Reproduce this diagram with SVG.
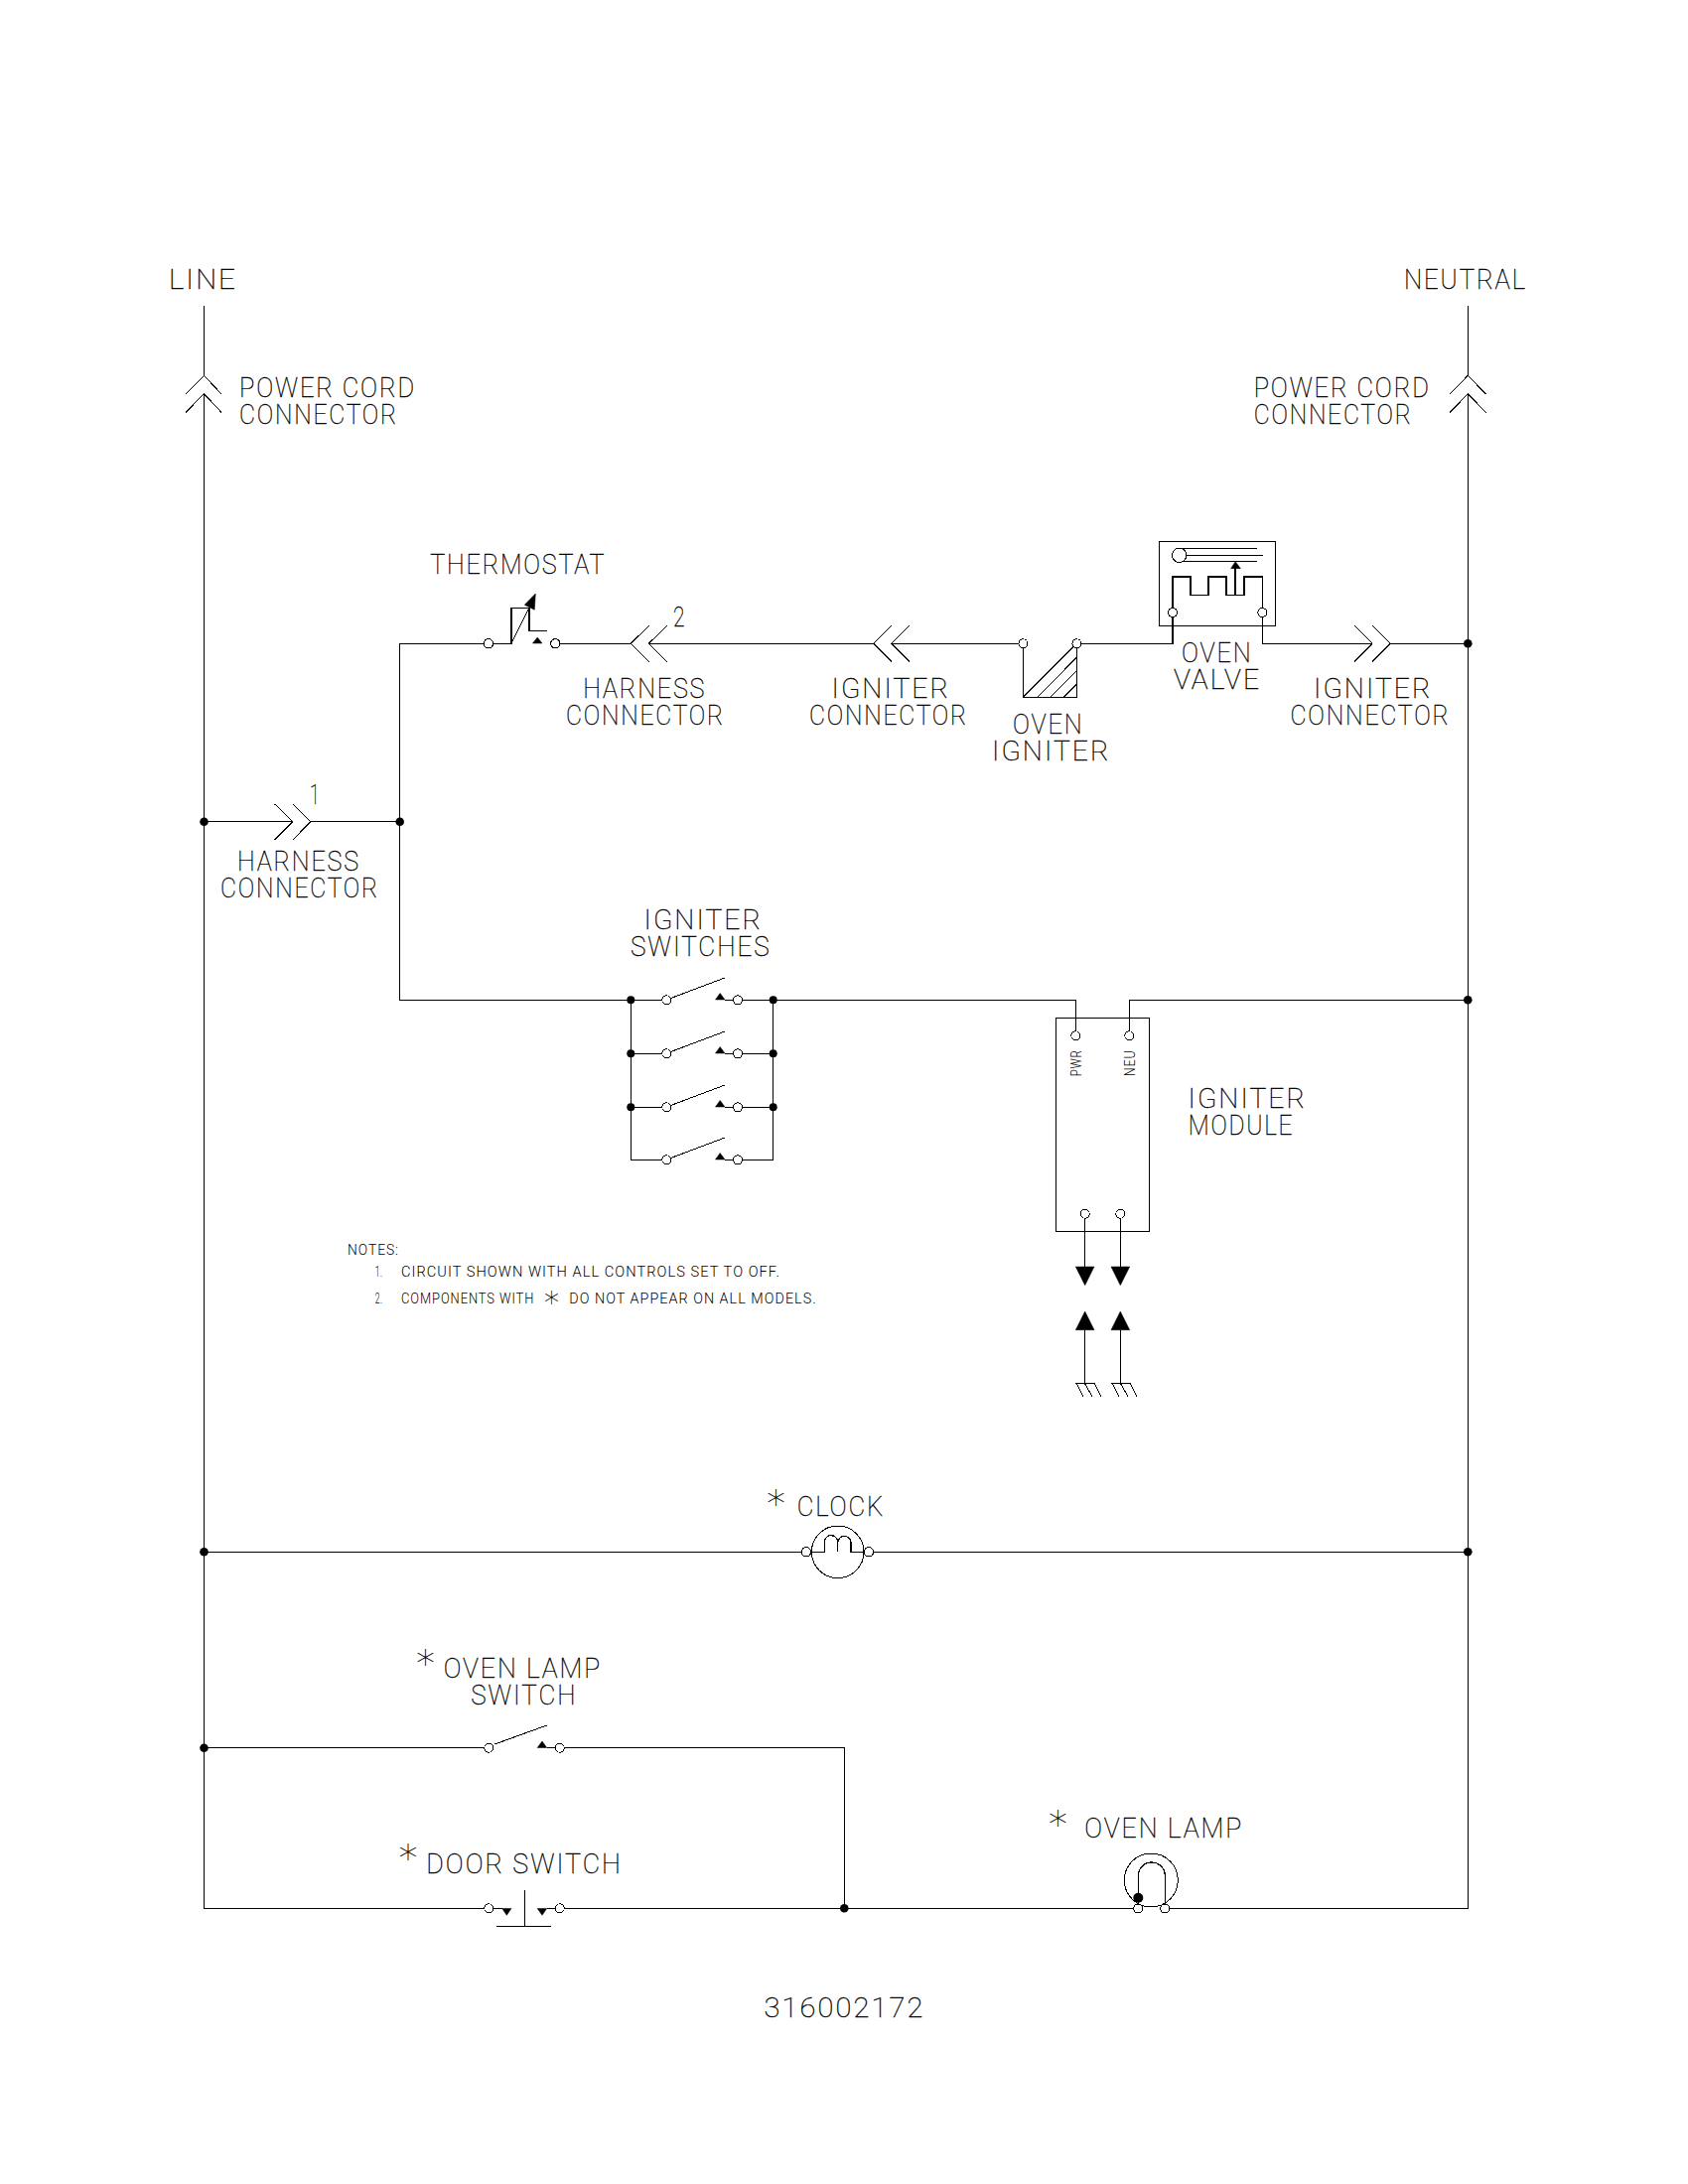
<svg xmlns="http://www.w3.org/2000/svg" width="1700" height="2200" viewBox="0 0 1700 2200">
<style>
rect.bg{fill:#fff}
.w{fill:none;stroke:#000;stroke-width:1.25;shape-rendering:crispEdges}
.l{fill:none;stroke:#000;stroke-width:1;shape-rendering:crispEdges}
.c{fill:#fff;stroke:#000;stroke-width:1;shape-rendering:crispEdges}
.d{fill:#000;stroke:none}
.f{fill:#000;stroke:#000;stroke-width:.5}
text{font-family:Roboto,"Liberation Sans",sans-serif;font-weight:100;font-size:27.5px;letter-spacing:2px;fill:#000;stroke:#000;stroke-width:.35}
text.s{font-size:14px;font-weight:300;letter-spacing:1px;stroke:none}
text.a{font-family:"DejaVu Sans",sans-serif;font-weight:200;font-size:38px;letter-spacing:0;stroke:none}
text.b{font-family:"DejaVu Sans",sans-serif;font-weight:200;font-size:30px;letter-spacing:0;stroke:none}
</style>
<rect class="bg" width="1700" height="2200"/>
<g id="connectors">
<path class="w" d="M205.5 307.7V378.3M205.5 396.7V1922.3H492.3M563.7 1922.3H1146.3M1173.3 1922.3H1478.3V396.7M1478.3 378.3V307.7"/>
<path class="w" d="M205.5 827.7H295M312.7 827.7H402.7"/>
<path class="w" d="M492 648.3H402.7V1007.3H671.3"/>
<path class="w" d="M559.3 648.3H635M653.3 648.3H880M898 648.3H1030.4M1084.4 648.3H1181V617M1271.3 617V648.3H1382M1400 648.3H1478.3"/>
<path class="w" d="M743 1007.3H1083.3V1043.3M1137.3 1043.3V1007.3H1478.3"/>
<path class="w" d="M205.5 1563.3H812M875 1563.3H1478.3"/>
<path class="w" d="M205.5 1760.7H492.3M563.7 1760.7H850.3V1922.3"/>
</g>
<g id="junctions">
<circle class="d" cx="205.5" cy="827.7" r="4.3"/><circle class="d" cx="402.7" cy="827.7" r="4.3"/>
<circle class="d" cx="1478.3" cy="648.3" r="4.3"/><circle class="d" cx="1478.3" cy="1007.3" r="4.3"/>
<circle class="d" cx="205.5" cy="1563.3" r="4.3"/><circle class="d" cx="1478.3" cy="1563.3" r="4.3"/>
<circle class="d" cx="205.5" cy="1760.7" r="4.3"/><circle class="d" cx="850.3" cy="1922.3" r="4.3"/>
</g>
<g id="line-label"><text x="170" y="290.7" textLength="69" lengthAdjust="spacingAndGlyphs">LINE</text></g>
<g id="neutral-label"><text x="1414" y="290.7" textLength="124" lengthAdjust="spacingAndGlyphs">NEUTRAL</text></g>
<g id="power-cord-left">
<path class="l" d="M186.7 397.3L205.5 378.3L223.3 397.3M186.7 415.7L205.5 396.7L223.3 415.7"/>
<text x="241" y="400" textLength="178" lengthAdjust="spacingAndGlyphs">POWER CORD</text>
<text x="241" y="426.7" textLength="160" lengthAdjust="spacingAndGlyphs">CONNECTOR</text>
</g>
<g id="power-cord-right">
<path class="l" d="M1460 397.3L1478.3 378.3L1496.7 397.3M1460 415.7L1478.3 396.7L1496.7 415.7"/>
<text x="1262.7" y="400" textLength="178" lengthAdjust="spacingAndGlyphs">POWER CORD</text>
<text x="1262.7" y="426.7" textLength="160" lengthAdjust="spacingAndGlyphs">CONNECTOR</text>
</g>
<g id="thermostat">
<text x="433.3" y="577.7" textLength="177" lengthAdjust="spacingAndGlyphs">THERMOSTAT</text>
<path class="w" d="M497 648.3H515V612.3H533V635.5H551"/>
<path class="l" d="M515 648.3L533 612.3"/>
<polygon class="f" points="528.3,609.3 539.3,598 538.3,614.3"/>
<polygon class="f" points="536.5,648 546,648 541.2,642"/>
<circle class="c" cx="492" cy="648.3" r="4.7"/><circle class="c" cx="559.3" cy="648.3" r="4.7"/>
</g>
<g id="harness-connector-2">
<path class="l" d="M654 630.3L635 648.3L654 666.7M672 630.3L653.3 648.3L672 666.7"/>
<text x="678" y="631" textLength="13" lengthAdjust="spacingAndGlyphs">2</text>
<text x="587.3" y="702.7" textLength="124" lengthAdjust="spacingAndGlyphs">HARNESS</text>
<text x="570" y="730" textLength="160" lengthAdjust="spacingAndGlyphs">CONNECTOR</text>
</g>
<g id="igniter-connector-left">
<path class="l" d="M898 630.3L880 648.3L898 666.7M916 630.3L898 648.3L916 666.7"/>
<text x="837.5" y="703" textLength="119.5" lengthAdjust="spacingAndGlyphs">IGNITER</text>
<text x="815" y="730" textLength="160" lengthAdjust="spacingAndGlyphs">CONNECTOR</text>
</g>
<g id="oven-igniter">
<path class="w" d="M1030.4 648.3V702.3H1084.4V648.3"/>
<path class="l" d="M1030.4 702.3L1084.4 648.3M1044.5 702.3L1084.4 662.3M1057.6 702.3L1084.4 675.7M1071 702.3L1084.4 689.3"/>
<circle class="c" cx="1030.4" cy="648.3" r="4.5"/><circle class="c" cx="1084.4" cy="648.3" r="4.5"/>
<text x="1020" y="738.7" textLength="71.5" lengthAdjust="spacingAndGlyphs">OVEN</text>
<text x="999" y="765.7" textLength="119.5" lengthAdjust="spacingAndGlyphs">IGNITER</text>
</g>
<g id="oven-valve">
<rect class="w" x="1167.6" y="545.3" width="116.8" height="85"/>
<path class="w" d="M1181 612.5V581H1199V599.3H1217V581H1235V599.3H1253V581H1271.3V612.5M1244 599.3V572"/>
<polygon class="f" points="1239.6,572.7 1249.4,572.7 1244.2,565.7"/>
<path class="l" d="M1187.7 552.3H1266.4M1187.7 559.3H1271.7M1187.7 565.7H1266.4"/>
<circle class="c" cx="1187.7" cy="559.3" r="7.2"/>
<circle class="c" cx="1181" cy="617" r="4.5"/><circle class="c" cx="1271.3" cy="617" r="4.5"/>
<text x="1190" y="666.7" textLength="71.5" lengthAdjust="spacingAndGlyphs">OVEN</text>
<text x="1182" y="694" textLength="88" lengthAdjust="spacingAndGlyphs">VALVE</text>
</g>
<g id="igniter-connector-right">
<path class="l" d="M1364 630.3L1382 648.3L1364 666.7M1382 630.3L1400 648.3L1382 666.7"/>
<text x="1323" y="703" textLength="119.5" lengthAdjust="spacingAndGlyphs">IGNITER</text>
<text x="1299.5" y="730" textLength="161" lengthAdjust="spacingAndGlyphs">CONNECTOR</text>
</g>
<g id="harness-connector-1">
<path class="l" d="M276.7 810L295 827.7L276.7 846M295 810L312.7 827.7L295 846"/>
<text x="312" y="810" textLength="11" lengthAdjust="spacingAndGlyphs">1</text>
<text x="239" y="876.7" textLength="124" lengthAdjust="spacingAndGlyphs">HARNESS</text>
<text x="222" y="904" textLength="160" lengthAdjust="spacingAndGlyphs">CONNECTOR</text>
</g>
<g id="igniter-switches">
<text x="648.5" y="935.7" textLength="119.5" lengthAdjust="spacingAndGlyphs">IGNITER</text>
<text x="635" y="962.7" textLength="141.5" lengthAdjust="spacingAndGlyphs">SWITCHES</text>
<path class="w" d="M635.3 1007.3V1168.3H671.3M635.3 1061.3H671.3M635.3 1115.3H671.3M778.7 1007.3V1168.3H743M778.7 1007.3H743M778.7 1061.3H743M778.7 1115.3H743"/>
<path class="w" d="M730 1007.3H743M730 1061.3H743M730 1115.3H743M730 1168.3H743"/>
<path class="l" d="M676 1005.3L730 985M676 1059.3L730 1039M676 1113.3L730 1093M676 1166.3L730 1146"/>
<polygon class="f" points="720.5,1007 730,1007 725.2,1000.5"/>
<polygon class="f" points="720.5,1061 730,1061 725.2,1054.5"/>
<polygon class="f" points="720.5,1115 730,1115 725.2,1108.5"/>
<polygon class="f" points="720.5,1168 730,1168 725.2,1161.5"/>
<circle class="d" cx="635.3" cy="1007.3" r="4"/><circle class="d" cx="635.3" cy="1061.3" r="4"/><circle class="d" cx="635.3" cy="1115.3" r="4"/>
<circle class="d" cx="778.7" cy="1007.3" r="4"/><circle class="d" cx="778.7" cy="1061.3" r="4"/><circle class="d" cx="778.7" cy="1115.3" r="4"/>
<circle class="c" cx="671.3" cy="1007.3" r="4.5"/><circle class="c" cx="671.3" cy="1061.3" r="4.5"/><circle class="c" cx="671.3" cy="1115.3" r="4.5"/><circle class="c" cx="671.3" cy="1168.3" r="4.5"/>
<circle class="c" cx="743" cy="1007.3" r="4.5"/><circle class="c" cx="743" cy="1061.3" r="4.5"/><circle class="c" cx="743" cy="1115.3" r="4.5"/><circle class="c" cx="743" cy="1168.3" r="4.5"/>
</g>
<g id="igniter-module">
<rect class="w" x="1063.3" y="1025.3" width="94" height="215"/>
<circle class="c" cx="1083.3" cy="1043.3" r="4.5"/><circle class="c" cx="1137.3" cy="1043.3" r="4.5"/>
<circle class="c" cx="1092.7" cy="1222.7" r="4.5"/><circle class="c" cx="1128.3" cy="1222.7" r="4.5"/>
<text class="s" transform="translate(1089.3 1084.3) rotate(-90)" textLength="27" lengthAdjust="spacingAndGlyphs">PWR</text>
<text class="s" transform="translate(1143.3 1084.3) rotate(-90)" textLength="27" lengthAdjust="spacingAndGlyphs">NEU</text>
<text x="1196.5" y="1115.7" textLength="119.5" lengthAdjust="spacingAndGlyphs">IGNITER</text>
<text x="1196.7" y="1142.7" textLength="106.5" lengthAdjust="spacingAndGlyphs">MODULE</text>
<path class="w" d="M1092.7 1227V1276M1128.3 1227V1276M1092.3 1339.7V1393.3M1128.3 1339.7V1393.3M1083.3 1393.3H1102.7M1119.3 1393.3H1138.7"/>
<polygon class="f" points="1083.3,1276 1102,1276 1092.7,1294.7"/>
<polygon class="f" points="1119,1276 1137.7,1276 1128.3,1294.7"/>
<polygon class="f" points="1083.3,1339.7 1102,1339.7 1092.7,1321"/>
<polygon class="f" points="1119,1339.7 1137.7,1339.7 1128.3,1321"/>
<path class="l" d="M1084 1393.3L1090.7 1406.7M1092.3 1393.3L1100 1406.7M1102.3 1393.3L1108.7 1406.7M1120 1393.3L1126.7 1406.7M1128.3 1393.3L1136 1406.7M1138.3 1393.3L1144.7 1406.7"/>
</g>
<g id="notes">
<text class="s" x="350" y="1264" textLength="52" lengthAdjust="spacingAndGlyphs">NOTES:</text>
<text class="s" x="377.7" y="1286" textLength="8" lengthAdjust="spacingAndGlyphs">1.</text>
<text class="s" x="404" y="1286" textLength="382" lengthAdjust="spacingAndGlyphs">CIRCUIT SHOWN WITH ALL CONTROLS SET TO OFF.</text>
<text class="s" x="377.7" y="1313.3" textLength="8" lengthAdjust="spacingAndGlyphs">2.</text>
<text class="s" x="404" y="1313.3" textLength="134.3" lengthAdjust="spacingAndGlyphs">COMPONENTS WITH</text>
<text class="b" x="548" y="1322">*</text>
<text class="s" x="573.3" y="1313.3" textLength="249.4" lengthAdjust="spacingAndGlyphs">DO NOT APPEAR ON ALL MODELS.</text>
</g>
<g id="clock">
<text class="a" x="772" y="1527.5">*</text>
<text x="802.7" y="1526.7" textLength="88.5" lengthAdjust="spacingAndGlyphs">CLOCK</text>
<circle class="c" cx="843.7" cy="1563.3" r="26.3"/>
<path class="w" d="M816.7 1563.3H830.3V1553.3A6.7 6.7 0 0 1 843.7 1553.3V1563.3V1553.3A6.7 6.7 0 0 1 857 1553.3V1563.3H870.7"/>
<circle class="c" cx="812" cy="1563.3" r="4.7"/><circle class="c" cx="875" cy="1563.3" r="4.7"/>
</g>
<g id="oven-lamp-switch">
<text class="a" x="419" y="1689">*</text>
<text x="446.7" y="1690" textLength="159.5" lengthAdjust="spacingAndGlyphs">OVEN LAMP</text>
<text x="474.3" y="1716.7" textLength="107" lengthAdjust="spacingAndGlyphs">SWITCH</text>
<path class="l" d="M498.3 1757L550.7 1738"/>
<path class="w" d="M550.7 1760.7H563.7"/>
<polygon class="f" points="541.2,1760.5 550.7,1760.5 546,1754"/>
<circle class="c" cx="492.3" cy="1760.7" r="4.5"/><circle class="c" cx="563.7" cy="1760.7" r="4.5"/>
</g>
<g id="door-switch">
<text class="a" x="401.6" y="1885">*</text>
<text x="429.3" y="1886.7" textLength="197.5" lengthAdjust="spacingAndGlyphs">DOOR SWITCH</text>
<path class="w" d="M492.3 1922.3H506M550.7 1922.3H563.7M528.3 1904.3V1940.3M500 1940.3H555"/>
<polygon class="f" points="505.7,1922.5 515,1922.5 510.3,1929.3"/>
<polygon class="f" points="541.2,1922.5 550.7,1922.5 546,1929.3"/>
<circle class="c" cx="492.3" cy="1922.3" r="4.5"/><circle class="c" cx="563.7" cy="1922.3" r="4.5"/>
</g>
<g id="oven-lamp">
<text class="a" x="1056" y="1851">*</text>
<text x="1092.3" y="1851" textLength="160" lengthAdjust="spacingAndGlyphs">OVEN LAMP</text>
<circle class="l" cx="1159.3" cy="1894" r="27"/>
<path class="w" d="M1146.3 1922.3V1889.5A13.5 13.5 0 0 1 1173.3 1889.5V1922.3"/>
<circle class="d" cx="1146.3" cy="1911.7" r="5"/>
<circle class="c" cx="1146.3" cy="1922.5" r="4.5"/><circle class="c" cx="1173.3" cy="1922.5" r="4.5"/>
</g>
<g id="part-number"><text x="769.4" y="2032" textLength="162" lengthAdjust="spacingAndGlyphs">316002172</text></g>
</svg>
